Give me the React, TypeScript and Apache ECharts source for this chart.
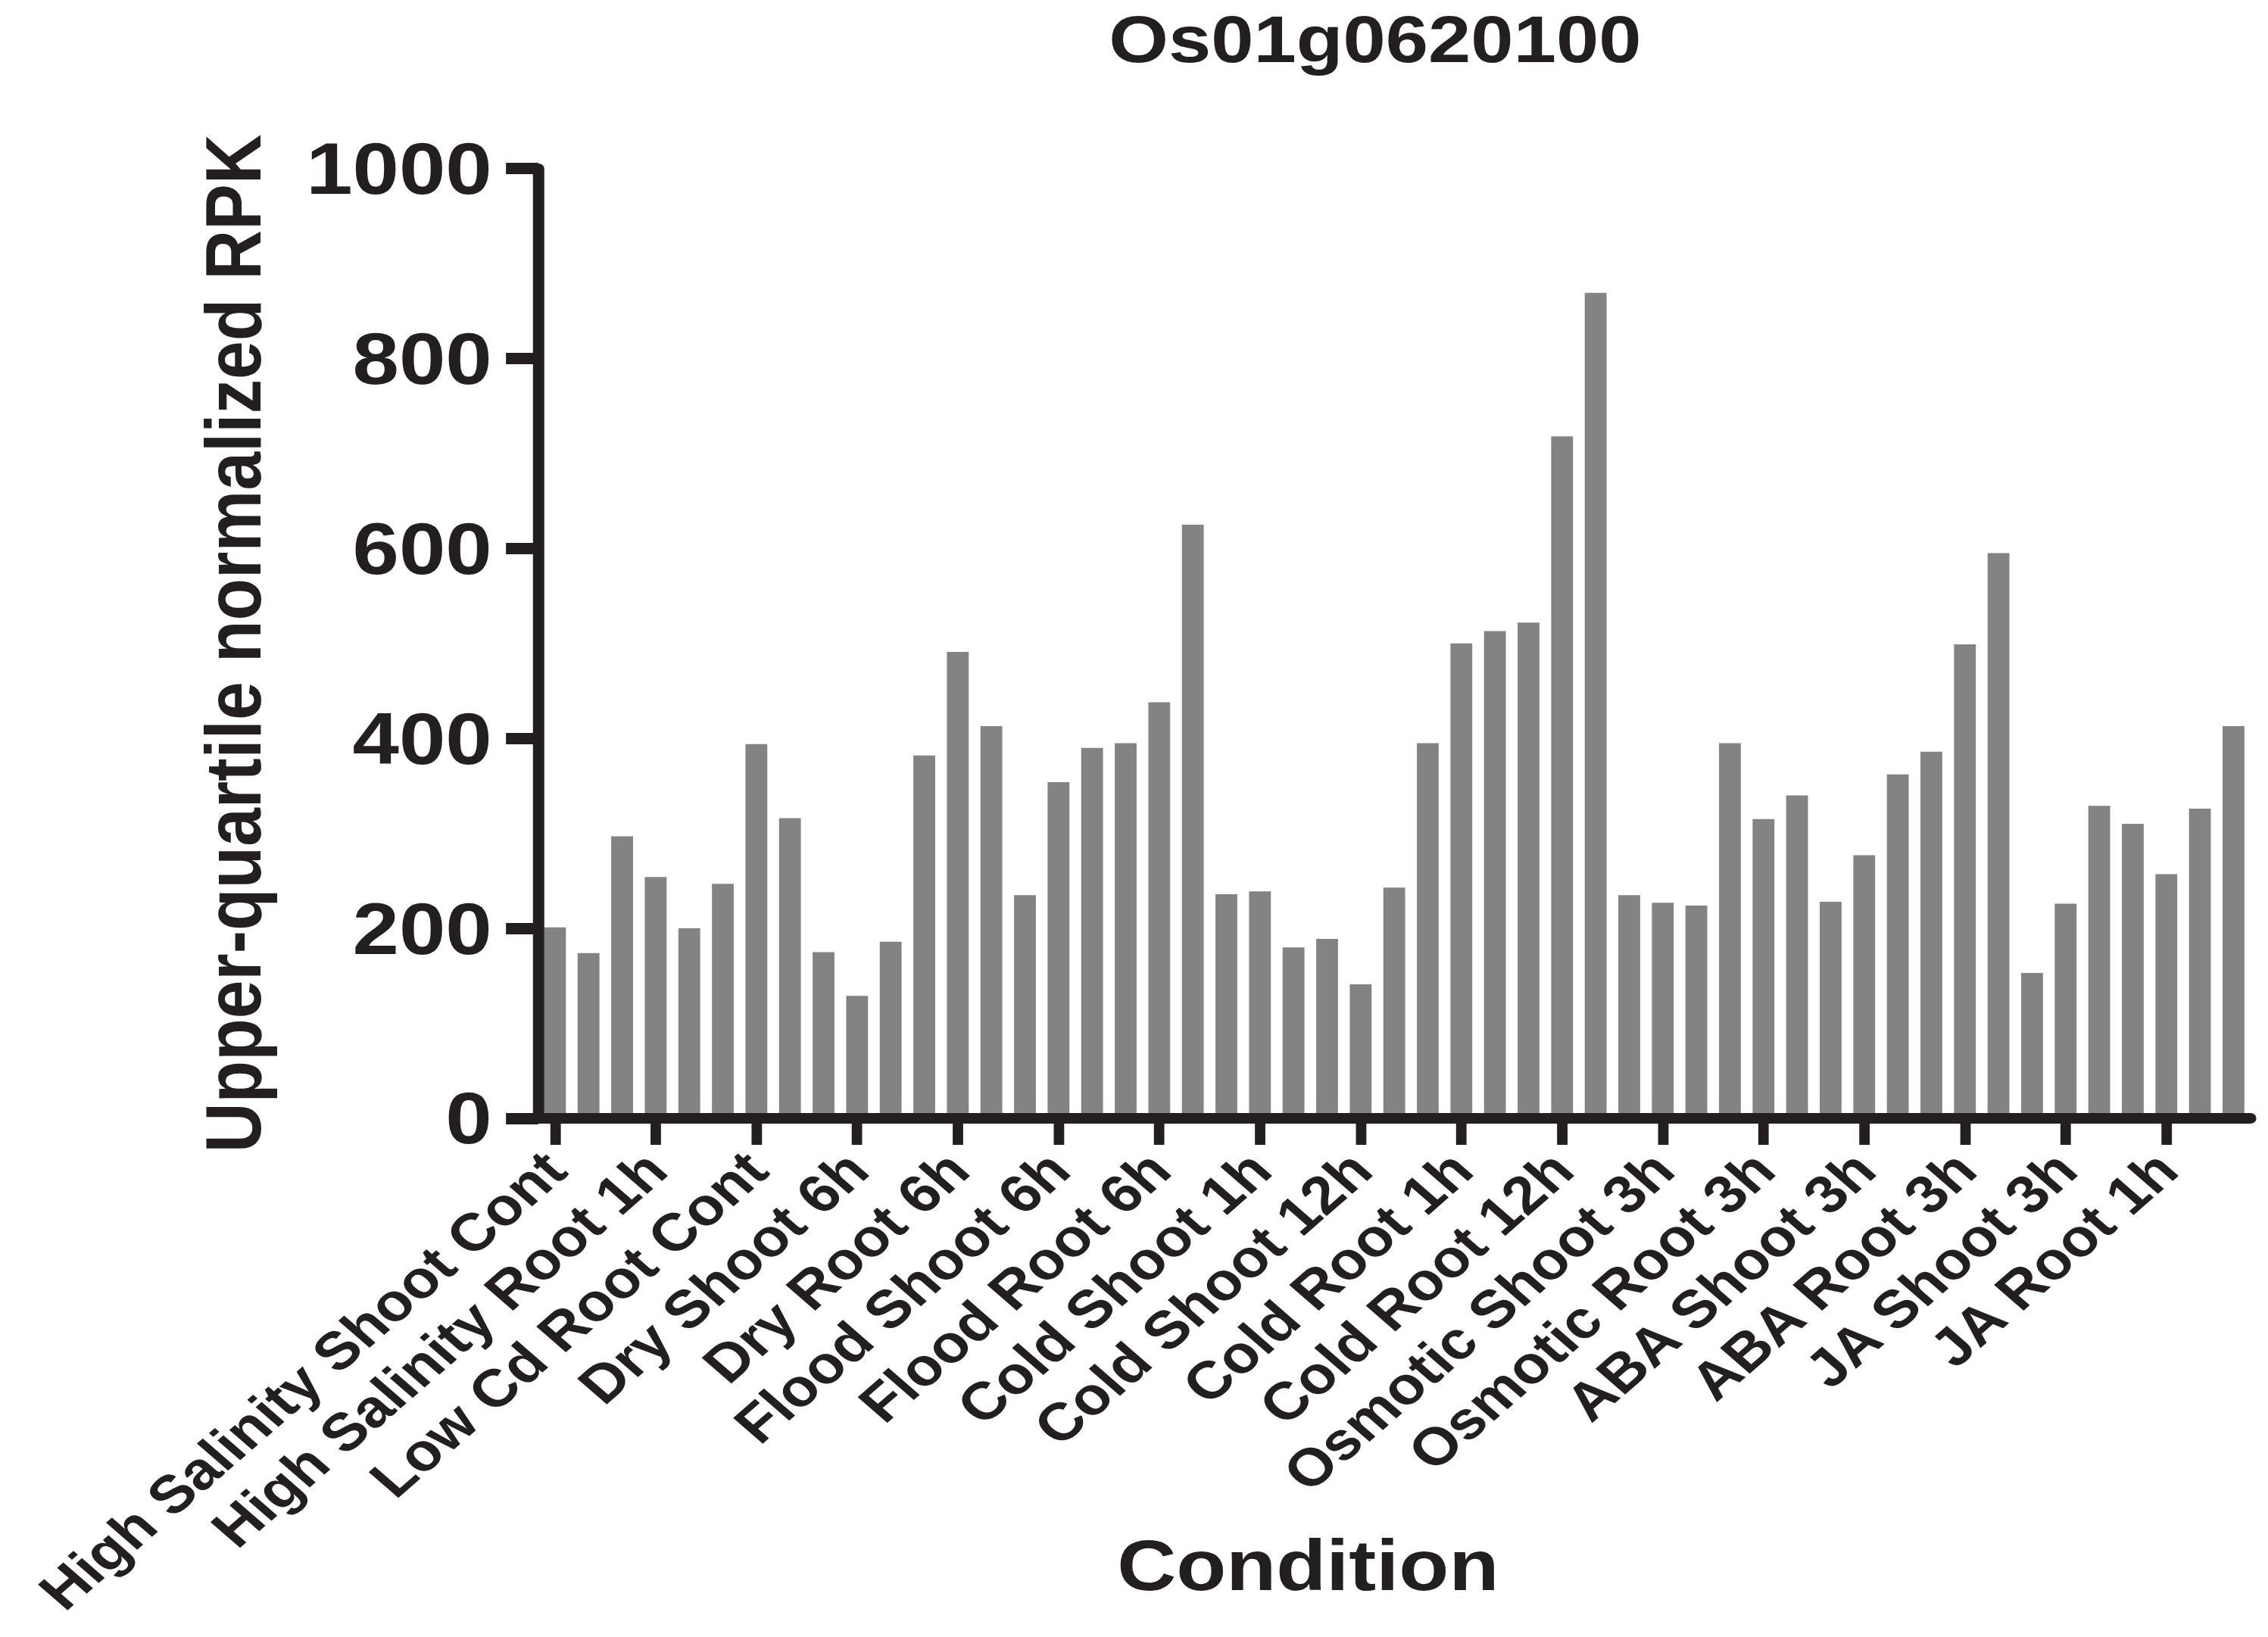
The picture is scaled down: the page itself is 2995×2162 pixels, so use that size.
import React, { useEffect, useRef } from "react";
import * as echarts from "echarts";

const categories: string[] = [
  "High Salinity Shoot Cont", "High Salinity Shoot 1h", "High Salinity Root Cont",
  "High Salinity Root 1h", "Low Cd Shoot Cont", "Low Cd Shoot 1d",
  "Low Cd Root Cont", "Low Cd Root 1d", "Dry Shoot Cont",
  "Dry Shoot 6h", "Dry Shoot 24h", "Dry Root Cont",
  "Dry Root 6h", "Dry Root 24h", "Flood Shoot Cont",
  "Flood Shoot 6h", "Flood Shoot 24h", "Flood Root Cont",
  "Flood Root 6h", "Flood Root 24h", "Cold Shoot Cont",
  "Cold Shoot 1h", "Cold Shoot 3h", "Cold Shoot 6h",
  "Cold Shoot 12h", "Cold Shoot 24h", "Cold Root Cont",
  "Cold Root 1h", "Cold Root 3h", "Cold Root 6h",
  "Cold Root 12h", "Cold Root 24h", "Osmotic Shoot 1h",
  "Osmotic Shoot 3h", "Osmotic Shoot 6h", "Osmotic Root 1h",
  "Osmotic Root 3h", "Osmotic Root 6h", "ABA Shoot 1h",
  "ABA Shoot 3h", "ABA Shoot 6h", "ABA Root 1h",
  "ABA Root 3h", "ABA Root 6h", "JA Shoot 1h",
  "JA Shoot 3h", "JA Shoot 6h", "JA Root Cont",
  "JA Root 1h", "JA Root 3h", "JA Root 6h",
];

const values: number[] = [
  201, 174, 297, 254, 200, 247, 394, 316, 175, 129,
  186, 382, 491, 413, 235, 354, 390, 395, 438, 625,
  236, 239, 180, 189, 141, 243, 395, 500, 513, 522,
  718, 869, 235, 227, 224, 395, 315, 340, 228, 277,
  362, 386, 499, 595, 153, 226, 329, 310, 257, 326,
  413,
];

const chartTitle = "Os01g0620100";
const xTitle = "Condition";
const yTitle = "Upper-quartile normalized RPK";
const yMin = 0;
const yMax = 1000;
const yStep = 200;

const STRETCH = 1.15;
const W = 2995;
const H = 2162;
const CW = Math.round(W / STRETCH);
const INK = "#231f20";
const BAR = "#838383";
const FONT = "'Liberation Sans', Arial, Helvetica, sans-serif";

export default function App() {
  const ref = useRef<HTMLDivElement>(null);
  useEffect(() => {
    document.body.style.margin = "0";
    document.body.style.overflow = "hidden";
    const el = ref.current;
    if (!el) return;
    const chart = echarts.init(el, null, { renderer: "svg", width: CW, height: H });
    const plotLeft = 618;
    const plotRight = 2584;
    chart.setOption({
      animation: false,
      backgroundColor: "#ffffff",
      grid: {
        left: plotLeft,
        right: CW - plotRight,
        top: 222.5,
        bottom: H - 1477,
        containLabel: false,
        outerBoundsMode: "none",
      },
      xAxis: {
        type: "category",
        data: categories,
        boundaryGap: true,
        z: 5,
        axisLine: { show: true, lineStyle: { color: INK, width: 14 } },
        axisTick: { show: true, alignWithLabel: true, interval: 2, length: 35, lineStyle: { color: INK, width: 12 } },
        axisLabel: {
          interval: 2,
          rotate: 45,
          margin: 56,
          fontSize: 70,
          fontWeight: "bold",
          fontFamily: FONT,
          color: INK,
        },
        splitLine: { show: false },
      },
      yAxis: {
        type: "value",
        min: yMin,
        max: yMax,
        interval: yStep,
        z: 5,
        name: yTitle,
        nameLocation: "middle",
        nameGap: 305,
        nameTextStyle: { fontSize: 91, fontWeight: "bold", fontFamily: FONT, color: INK },
        axisLine: { show: true, lineStyle: { color: INK, width: 13 } },
        axisTick: { show: true, length: 37, lineStyle: { color: INK, width: 15 } },
        axisLabel: {
          margin: 53,
          fontSize: 96,
          fontWeight: "bold",
          fontFamily: FONT,
          color: INK,
          formatter: (v: number) => String(v),
        },
        splitLine: { show: false },
      },
      series: [
        {
          type: "bar",
          data: values,
          barCategoryGap: "35%",
          itemStyle: { color: BAR },
        },
      ],
      graphic: [
        {
          type: "text",
          x: 1579,
          y: 51,
          style: {
            text: chartTitle,
            fill: INK,
            fontSize: 88,
            lineHeight: 88,
            fontWeight: "bold",
            fontFamily: FONT,
            align: "center",
            textAlign: "center",
            verticalAlign: "middle",
            textVerticalAlign: "middle",
          },
        },
        {
          type: "text",
          x: 1502,
          y: 2067,
          style: {
            text: xTitle,
            fill: INK,
            fontSize: 94,
            fontWeight: "bold",
            fontFamily: FONT,
            align: "center",
            textAlign: "center",
            verticalAlign: "middle",
            textVerticalAlign: "middle",
          },
        },
      ],
    });
    return () => chart.dispose();
  }, []);
  return (
    <div
      ref={ref}
      style={{
        width: CW,
        height: H,
        transform: `scaleX(${STRETCH})`,
        transformOrigin: "0 0",
      }}
    />
  );
}
